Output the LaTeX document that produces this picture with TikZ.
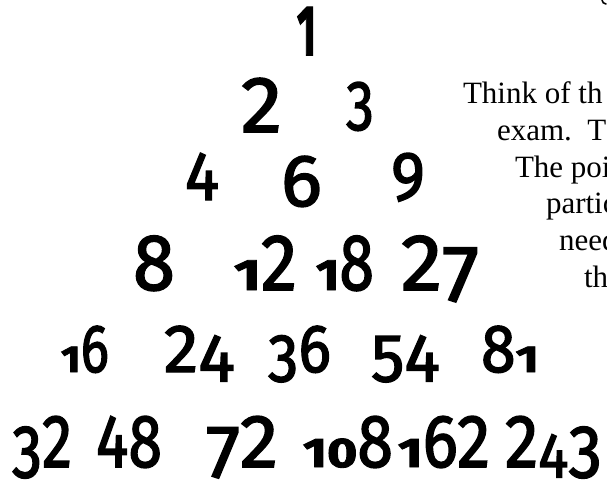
\documentclass[tikz,border=0pt]{standalone}
\usepackage{fontspec}
\usepackage{graphicx}
\setmainfont{Liberation Serif}
\newfontfamily\numF[FakeBold=2.1]{Fira Sans}
\newcommand\sm[1]{\scalebox{0.8}[0.55]{\bfseries #1}}
\newcommand\lo[1]{\raisebox{-0.14em}{#1}}
\newcommand\LN[3]{\resizebox{#2pt}{#3pt}{\fontsize{60}{60}\selectfont\numF #1}}
\newcommand\ON[2]{\resizebox{#2pt}{\height}{#1}}
\tikzset{
  num/.style={anchor=base west, inner sep=0pt, outer sep=0pt, text=black},
  rowfour/.style={num, font=\fontsize{80}{80}\selectfont\numF},
  rowfive/.style={num, font=\fontsize{68}{68}\selectfont\numF},
  rowsix/.style={num, font=\fontsize{75}{75}\selectfont\numF},
  para/.style={anchor=base west, inner sep=0pt, outer sep=0pt, text=black, font=\fontsize{31}{36}\selectfont},
}
\begin{document}
\begin{tikzpicture}[x=1pt,y=-1pt]
\useasboundingbox (0,0) rectangle (607,483);
\clip (0,0) rectangle (607,483);
\fill[white] (0,0) rectangle (607,483);
% rows 1-3
\node[num] (n1) at (297,55) {\LN{\bfseries 1}{19}{48}};
\node[num] (n2) at (241,132) {\LN{2}{41}{54}};
\node[num] (n3) at (346,130) {\LN{3}{28}{48}};
\node[num] (n4) at (185,200) {\LN{4}{34}{47}};
\node[num] (n6) at (281,206) {\LN{6}{41}{50}};
\node[num] (n9) at (391,200) {\LN{9}{34}{47}};
% row 4
\node[rowfour] (n8) at (133,290) {\ON{8}{42}};
\node[rowfour] (n12) at (234,290) {\ON{\sm{1}2}{63}};
\node[rowfour] (n18) at (316,290) {\ON{\sm{1}8}{58}};
\node[rowfour] (n27) at (401,290) {\ON{2\lo{7}}{78}};
% row 5
\node[rowfive] (n16) at (61,372) {\ON{\sm{1}6}{48}};
\node[rowfive] (n24) at (164,372) {\ON{2\lo{4}}{71}};
\node[rowfive] (n36) at (268,372) {\ON{\lo{3}6}{63}};
\node[rowfive] (n54) at (371,372) {\ON{\lo{5}\lo{4}}{69}};
\node[rowfive] (n81) at (481,372) {\ON{8\sm{1}}{58}};
% row 6
\node[rowsix] (n32) at (12,467) {\ON{\lo{3}2}{60}};
\node[rowsix] (n48) at (96,467) {\ON{48}{66}};
\node[rowsix] (n72) at (206,467) {\ON{\lo{7}2}{72}};
\node[rowsix] (n108) at (303,467) {\ON{\sm{1}\sm{0}8}{90}};
\node[rowsix] (n162) at (398,467) {\ON{\sm{1}62}{92}};
\node[rowsix] (n243) at (505,467) {\ON{2\lo{\scalebox{0.85}{4}}\lo{3}}{97}};
% text at right (cut by the edge)
\node[para] (t1) at (463,103) {Think of th};
\node[para] (t2) at (497,140) {exam.\ \ T};
\node[para] (t3) at (515,177) {The poi};
\node[para] (t4) at (546,213) {partic};
\node[para] (t5) at (559,250) {need};
\node[para] (t6) at (584,287) {th};
% small mark at top right corner
\draw[line width=1.6pt, line cap=round] (602,0) to[bend right=40] (606,4);
\end{tikzpicture}
\end{document}
